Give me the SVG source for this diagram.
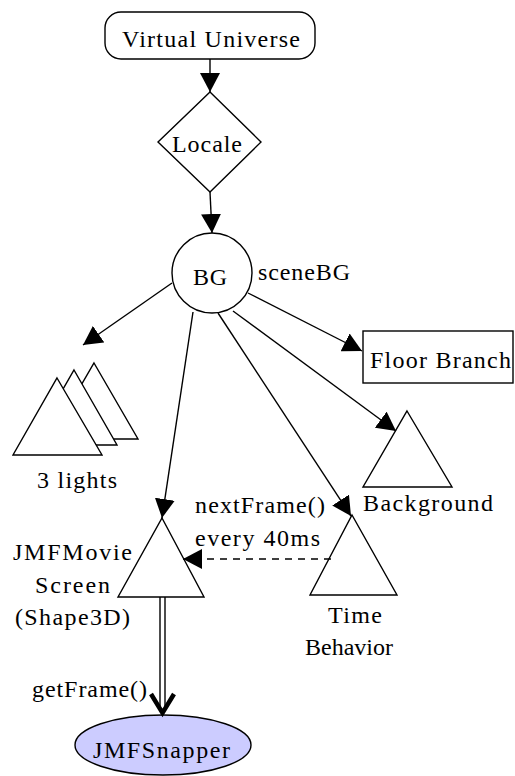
<svg xmlns="http://www.w3.org/2000/svg" width="515" height="776" viewBox="0 0 515 776">
  <style>
    .shape { fill: #ffffff; stroke: #000000; stroke-width: 1.4; }
    .edge { fill: none; stroke: #000000; stroke-width: 1.4; }
    .dash { stroke-dasharray: 7 6; }
    text { font-family: "Liberation Serif", "Times New Roman", serif; font-size: 24px; fill: #000000; }
  </style>
  <defs>
    <marker id="arrow" markerUnits="userSpaceOnUse" markerWidth="20" markerHeight="20" refX="19" refY="10" orient="auto">
      <path d="M0,0 L19,10 L0,20 Z" fill="#000000"/>
    </marker>
  </defs>

  <g id="virtual-universe">
    <rect class="shape" x="105" y="12" width="210" height="47" rx="16" ry="16"/>
    <text x="122" y="47" textLength="178" lengthAdjust="spacing">Virtual Universe</text>
  </g>

  <g id="locale">
    <polygon class="shape" points="210,92 261,142 210,192 158,142"/>
    <text x="172" y="152" textLength="70" lengthAdjust="spacing">Locale</text>
  </g>

  <g id="scene-bg">
    <circle class="shape" cx="212" cy="273" r="40"/>
    <text x="193" y="285" textLength="34" lengthAdjust="spacing">BG</text>
    <text x="258" y="280" textLength="92" lengthAdjust="spacing">sceneBG</text>
  </g>

  <g id="floor-branch">
    <rect class="shape" x="363" y="331" width="150" height="52"/>
    <text x="370" y="368" textLength="141" lengthAdjust="spacing">Floor Branch</text>
  </g>

  <g id="lights">
    <polygon class="shape" points="94,363 138,439 50,439"/>
    <polygon class="shape" points="74,370 117,445 31,445"/>
    <polygon class="shape" points="57,378 102,455 13,455"/>
    <text x="37" y="488" textLength="80" lengthAdjust="spacing">3 lights</text>
  </g>

  <g id="background">
    <polygon class="shape" points="407,411 452,487 363,487"/>
    <text x="363" y="511" textLength="130" lengthAdjust="spacing">Background</text>
  </g>

  <g id="movie-screen">
    <polygon class="shape" points="162,518 204,597 118,597"/>
    <text x="13" y="560" textLength="119" lengthAdjust="spacing">JMFMovie</text>
    <text x="35" y="593" textLength="75" lengthAdjust="spacing">Screen</text>
    <text x="15" y="625" textLength="115" lengthAdjust="spacing">(Shape3D)</text>
  </g>

  <g id="time-behavior">
    <polygon class="shape" points="352,515 397,595 310,595"/>
    <text x="328" y="623" textLength="54" lengthAdjust="spacing">Time</text>
    <text x="305" y="655" textLength="88" lengthAdjust="spacing">Behavior</text>
  </g>

  <g id="snapper">
    <ellipse cx="163" cy="745" rx="88" ry="30" fill="#ccccff" stroke="#000000" stroke-width="1.4"/>
    <text x="93" y="758" textLength="137" lengthAdjust="spacing">JMFSnapper</text>
  </g>

  <g id="connectors">
    <line class="edge" x1="210" y1="59" x2="210" y2="92" marker-end="url(#arrow)"/>
    <line class="edge" x1="210" y1="192" x2="212" y2="233" marker-end="url(#arrow)"/>
    <line class="edge" x1="172" y1="283" x2="83" y2="345" marker-end="url(#arrow)"/>
    <line class="edge" x1="193" y1="312" x2="162" y2="518" marker-end="url(#arrow)"/>
    <line class="edge" x1="218" y1="313" x2="351" y2="516" marker-end="url(#arrow)"/>
    <line class="edge" x1="233" y1="311" x2="396" y2="431" marker-end="url(#arrow)"/>
    <line class="edge" x1="248" y1="293" x2="362" y2="351" marker-end="url(#arrow)"/>
    <line class="edge dash" x1="331" y1="559" x2="183" y2="559" marker-end="url(#arrow)"/>
    <!-- double-line call from the screen to the snapper -->
    <line class="edge" x1="160" y1="597" x2="160" y2="708"/>
    <line class="edge" x1="165" y1="597" x2="165" y2="708"/>
    <path d="M151,694 L162.5,713 L174,694" fill="none" stroke="#000000" stroke-width="4.5" stroke-linejoin="miter"/>
    <text x="32" y="697" textLength="115" lengthAdjust="spacing">getFrame()</text>
    <text x="195" y="513" textLength="130" lengthAdjust="spacing">nextFrame()</text>
    <text x="195" y="546" textLength="125" lengthAdjust="spacing">every 40ms</text>
  </g>
</svg>
